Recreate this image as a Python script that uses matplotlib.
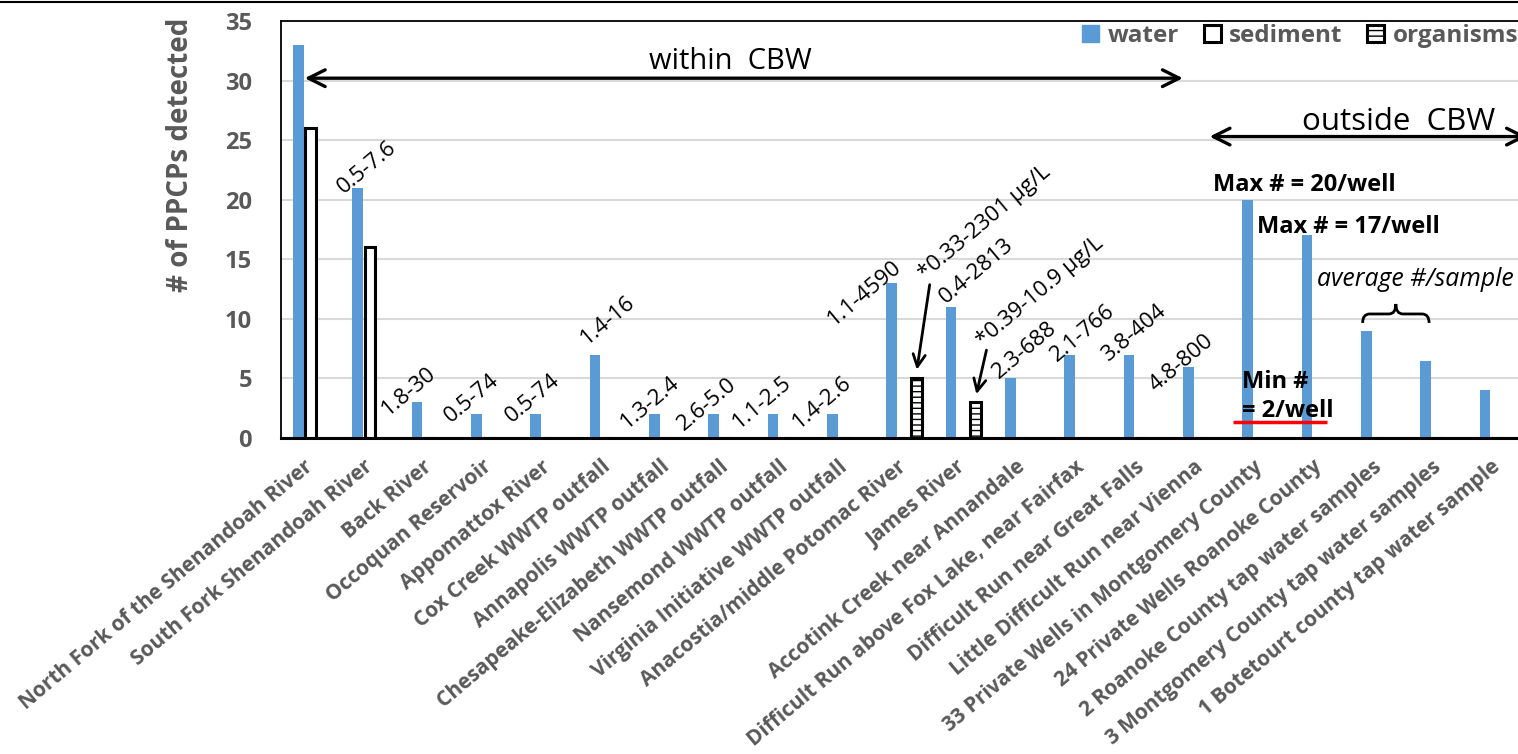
import numpy as np
import matplotlib
matplotlib.use("Agg")
import matplotlib.pyplot as plt
from matplotlib.patches import Patch, PathPatch
from matplotlib.path import Path
from matplotlib.lines import Line2D

plt.rcParams["font.family"] = ["Open Sans", "DejaVu Sans"]
plt.rcParams["hatch.linewidth"] = 1.0

sites = ["North Fork of the Shenandoah River", "South Fork Shenandoah River", "Back River",
         "Occoquan Reservoir", "Appomattox River", "Cox Creek WWTP outfall",
         "Annapolis WWTP outfall", "Chesapeake-Elizabeth WWTP outfall", "Nansemond WWTP outfall",
         "Virginia Initiative WWTP outfall", "Anacostia/middle Potomac River", "James River",
         "Accotink Creek near Annandale", "Difficult Run above Fox Lake, near Fairfax",
         "Difficult Run near Great Falls", "Little Difficult Run near Vienna",
         "33 Private Wells in Montgomery County", "24 Private Wells Roanoke County",
         "2 Roanoke County tap water samples", "3 Montgomery County tap water samples",
         "1 Botetourt county tap water sample"]
water = [33, 21, 3, 2, 2, 7, 2, 2, 2, 2, 13, 11, 5, 7, 7, 6, 20, 17, 9, 6.5, 4]
sediment = [26, 16] + [0] * 19
organisms = [0] * 10 + [5, 3] + [0] * 9

# concentration ranges written over the water bars (site index, text)
ranges = [(1, "0.5-7.6"), (2, "1.8-30"), (3, "0.5-74"), (4, "0.5-74"), (5, "1.4-16"),
          (6, "1.3-2.4"), (7, "2.6-5.0"), (8, "1.1-2.5"), (9, "1.4-2.6"), (10, "1.1-4590"),
          (11, "0.4-2813"), (12, "2.3-688"), (13, "2.1-766"), (14, "3.8-404"), (15, "4.8-800")]
# where each range label sits: (x shift from site, height)
range_pos = [(-0.05, 22.7), (-0.34, 3.95), (-0.28, 3.3), (-0.25, 3.35), (0.01, 9.9),
             (-0.28, 2.95), (-0.32, 2.85), (-0.39, 3.0), (-0.38, 3.0), (-0.67, 12.2),
             (0.23, 14.0), (0.04, 7.4), (0.02, 8.8), (-0.13, 8.8), (-0.33, 6.3)]

BLUE = "#5B9BD5"
GRAY = "#595959"
W = 0.18
OFF = 0.21
LAB = 16

fig = plt.figure(figsize=(15.18, 7.54), dpi=100)
ax = fig.add_axes([281 / 1518, 1 - 438 / 754, 1246 / 1518, 417 / 754])
x = np.arange(len(sites))

ax.bar(x - OFF, water, W, color=BLUE, zorder=3)
ax.bar(x, sediment, W, facecolor="white", edgecolor="black", linewidth=2.2, zorder=3)
org = np.array(organisms, float)
ax.bar(x[org > 0] + OFF, org[org > 0], W, facecolor="white", edgecolor="black",
       linewidth=2.2, hatch="---", zorder=3)

ax.set_xlim(-0.5, 20.5)
ax.set_ylim(0, 35)
ax.set_yticks(range(0, 36, 5))
ax.grid(axis="y", color="#d9d9d9", lw=1.5, zorder=0)
ax.set_axisbelow(True)
for s in ["top", "left"]:
    ax.spines[s].set_linewidth(1.3)
ax.spines["bottom"].set_linewidth(2.2)
ax.spines["bottom"].set_zorder(5)
ax.spines["right"].set_visible(False)
ax.tick_params(length=0)
ax.tick_params(axis="y", pad=21, labelsize=17, labelcolor=GRAY)
ax.tick_params(axis="x", pad=19, labelsize=15, labelcolor=GRAY)
for t in ax.get_yticklabels():
    t.set_fontweight("bold")
ax.set_xticks(x)
ax.set_xticklabels(sites, rotation=40, ha="right", va="center", rotation_mode="anchor",
                   fontweight="bold")

fig.text(180 / 1518, 1 - 155 / 754, "# of PPCPs detected", rotation=90, ha="center",
         va="center", fontsize=20, fontweight="bold", color=GRAY)

for (i, lab), (dx, yy) in zip(ranges, range_pos):
    ax.text(i + dx, yy, lab, rotation=40, ha="center", va="center", fontsize=LAB)

# organism concentration notes with arrows to the hatched bars
ax.text(11.36, 18.1, "*0.33-2301 µg/L", rotation=40, ha="center", va="center", fontsize=LAB)
ax.text(12.29, 12.3, "*0.39-10.9 µg/L", rotation=40, ha="center", va="center", fontsize=LAB)
ax.annotate("", xy=(10 + OFF, organisms[10] + 0.5), xytext=(10.44, 13.1),
            arrowprops=dict(arrowstyle="->", lw=2, color="black", mutation_scale=22))
ax.annotate("", xy=(11 + OFF, organisms[11] + 0.45), xytext=(11.40, 7.6),
            arrowprops=dict(arrowstyle="->", lw=2, color="black", mutation_scale=22))

# region arrows
ax.annotate("", xy=(-0.1, 30.2), xytext=(14.7, 30.2),
            arrowprops=dict(arrowstyle="<->", lw=2.4, color="black", mutation_scale=30,
                            shrinkA=0, shrinkB=0))
ax.text(7.07, 31.6, "within  CBW", ha="center", va="center", fontsize=21)
ax.annotate("", xy=(15.15, 25.3), xytext=(20.5, 25.3), annotation_clip=False,
            arrowprops=dict(arrowstyle="<->", lw=2.4, color="black", mutation_scale=30,
                            shrinkA=0, shrinkB=0))
ax.text(18.33, 26.5, "outside  CBW", ha="center", va="center", fontsize=22.5)

ax.text(15.21, 21.25, "Max # = 20/well", ha="left", va="center", fontsize=17, fontweight="bold")
ax.text(15.95, 17.7, "Max # = 17/well", ha="left", va="center", fontsize=17, fontweight="bold")
ax.text(15.69, 4.7, "Min #", ha="left", va="center", fontsize=17, fontweight="bold")
ax.text(15.69, 2.3, "= 2/well", ha="left", va="center", fontsize=17, fontweight="bold")
ax.plot([15.54, 17.13], [1.35, 1.35], color="red", lw=2.5, zorder=6, solid_capstyle="butt")
ax.text(16.96, 13.3, "average #/sample", ha="left", va="center", fontsize=17.8,
        style="italic")

# curly brace over the tap water bars
x0, x1, ye, ym, yt, r = 17.73, 18.85, 9.66, 10.41, 11.25, 0.12
xm = (x0 + x1) / 2
verts = [(x0, ye), (x0, ym), (x0 + r, ym), (xm - r, ym), (xm, ym), (xm, yt),
         (xm, ym), (xm + r, ym), (x1 - r, ym), (x1, ym), (x1, ye)]
codes = [Path.MOVETO, Path.CURVE3, Path.CURVE3, Path.LINETO, Path.CURVE3, Path.CURVE3,
         Path.CURVE3, Path.CURVE3, Path.LINETO, Path.CURVE3, Path.CURVE3]
ax.add_patch(PathPatch(Path(verts, codes), facecolor="none", edgecolor="black", lw=2))

handles = [Patch(facecolor=BLUE, edgecolor=BLUE),
           Patch(facecolor="white", edgecolor="black", linewidth=2.2),
           Patch(facecolor="white", edgecolor="black", linewidth=2.2, hatch="---")]
leg = fig.legend(handles, ["water", "sediment", "organisms"], loc="upper right",
                 bbox_to_anchor=(1.0, 0.968), ncol=3, frameon=False, handlelength=0.7,
                 handleheight=0.7, handletextpad=0.35, columnspacing=1.0,
                 prop=dict(size=17.5, weight="bold"), borderaxespad=0, borderpad=0)
for t in leg.get_texts():
    t.set_color(GRAY)

fig.add_artist(Line2D([0, 1], [0.998, 0.998], color="black", lw=1.5,
                      transform=fig.transFigure))

fig.savefig("out.png", dpi=100)
